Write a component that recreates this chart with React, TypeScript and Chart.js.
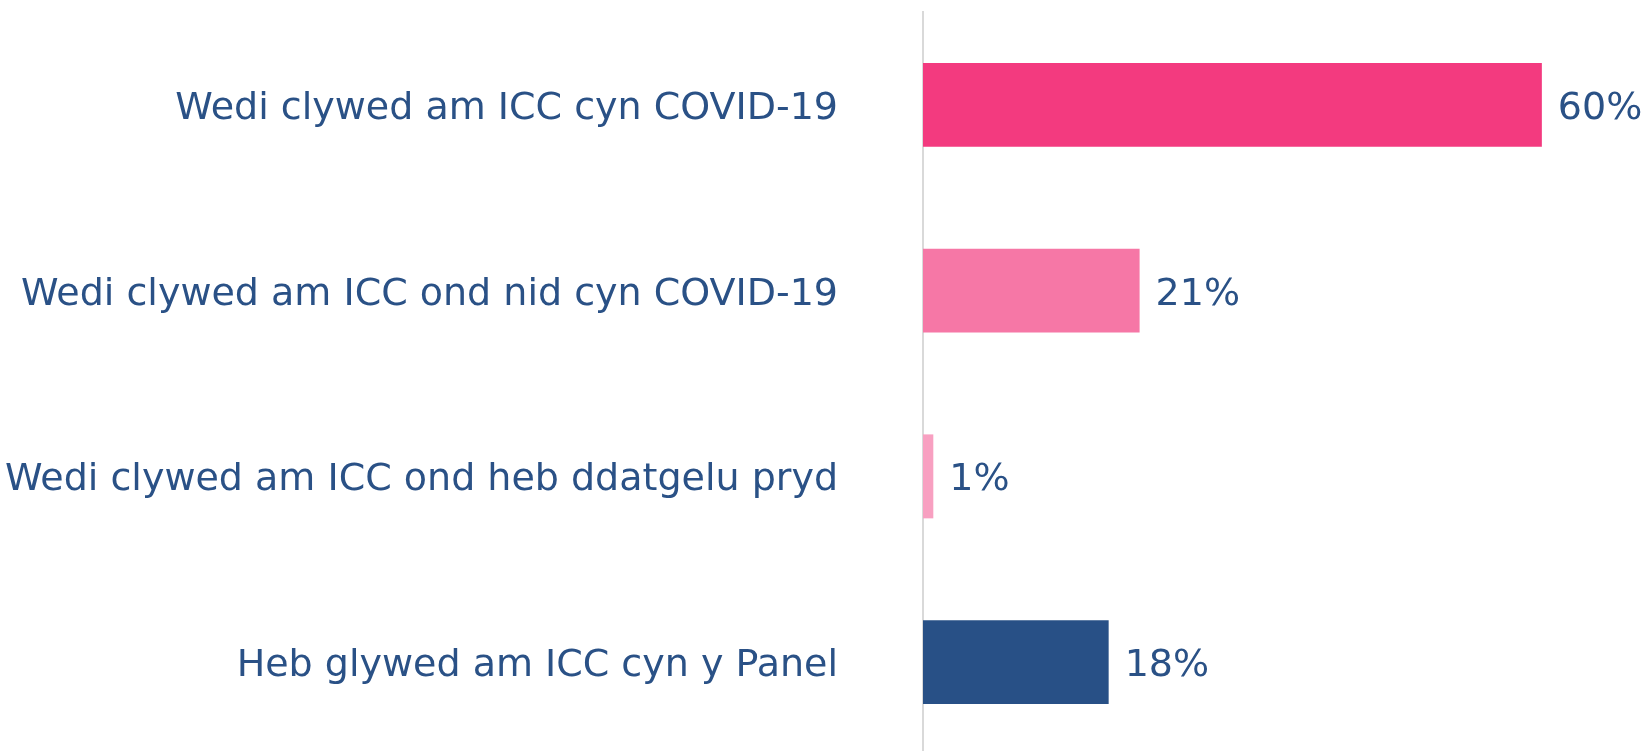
import React, { useEffect, useRef } from "react";
import { Chart, registerables } from "chart.js";

Chart.register(...registerables);

const categories = [
  "Wedi clywed am ICC cyn COVID-19",
  "Wedi clywed am ICC ond nid cyn COVID-19",
  "Wedi clywed am ICC ond heb ddatgelu pryd",
  "Heb glywed am ICC cyn y Panel",
];
const values = [60, 21, 1, 18];
const barColors = ["#f33a7f", "#f677a6", "#f8a0c1", "#285086"];
const textColor = "#2a5186";
const fontFamily = "Verdana, 'DejaVu Sans', sans-serif";

const valueLabels = {
  id: "valueLabels",
  afterDatasetsDraw(chart: any) {
    const ctx = chart.ctx;
    const meta = chart.getDatasetMeta(0);
    ctx.save();
    ctx.font = `38px ${fontFamily}`;
    ctx.fillStyle = textColor;
    ctx.textAlign = "left";
    ctx.textBaseline = "middle";
    meta.data.forEach((bar: any, i: number) => {
      ctx.fillText(`${values[i]}%`, bar.x + 16, bar.y + 4);
    });
    ctx.restore();
  },
};

export default function App() {
  const ref = useRef<HTMLCanvasElement>(null);
  useEffect(() => {
    const chart = new Chart(ref.current!, {
      type: "bar",
      data: {
        labels: categories,
        datasets: [
          {
            data: values,
            backgroundColor: barColors,
            categoryPercentage: 1,
            barPercentage: 0.452,
          },
        ],
      },
      options: {
        indexAxis: "y",
        animation: false,
        responsive: false,
        layout: { padding: { top: 12, bottom: 0, right: 4, left: 0 } },
        plugins: { legend: { display: false }, tooltip: { enabled: false } },
        scales: {
          x: { display: false, min: 0, max: 70 },
          y: {
            afterFit: (s: any) => {
              s.width = 923;
              s.paddingTop = 0;
              s.paddingBottom = 0;
            },
            grid: {
              display: true,
              drawOnChartArea: false,
              drawTicks: true,
              tickLength: 85,
              tickColor: "rgba(0,0,0,0)",
            },
            border: { display: true, color: "#d9d9d9", width: 2 },
            ticks: {
              color: textColor,
              padding: 0,
              labelOffset: 4,
              font: { family: fontFamily, size: 38 },
            },
          },
        },
      },
      plugins: [valueLabels],
    });
    return () => chart.destroy();
  }, []);
  return (
    <div
      style={{
        position: "fixed",
        left: 0,
        top: 0,
        width: 1649,
        height: 751,
        overflow: "hidden",
        background: "#fff",
      }}
    >
      <canvas ref={ref} width={1649} height={755} style={{ display: "block" }} />
    </div>
  );
}
